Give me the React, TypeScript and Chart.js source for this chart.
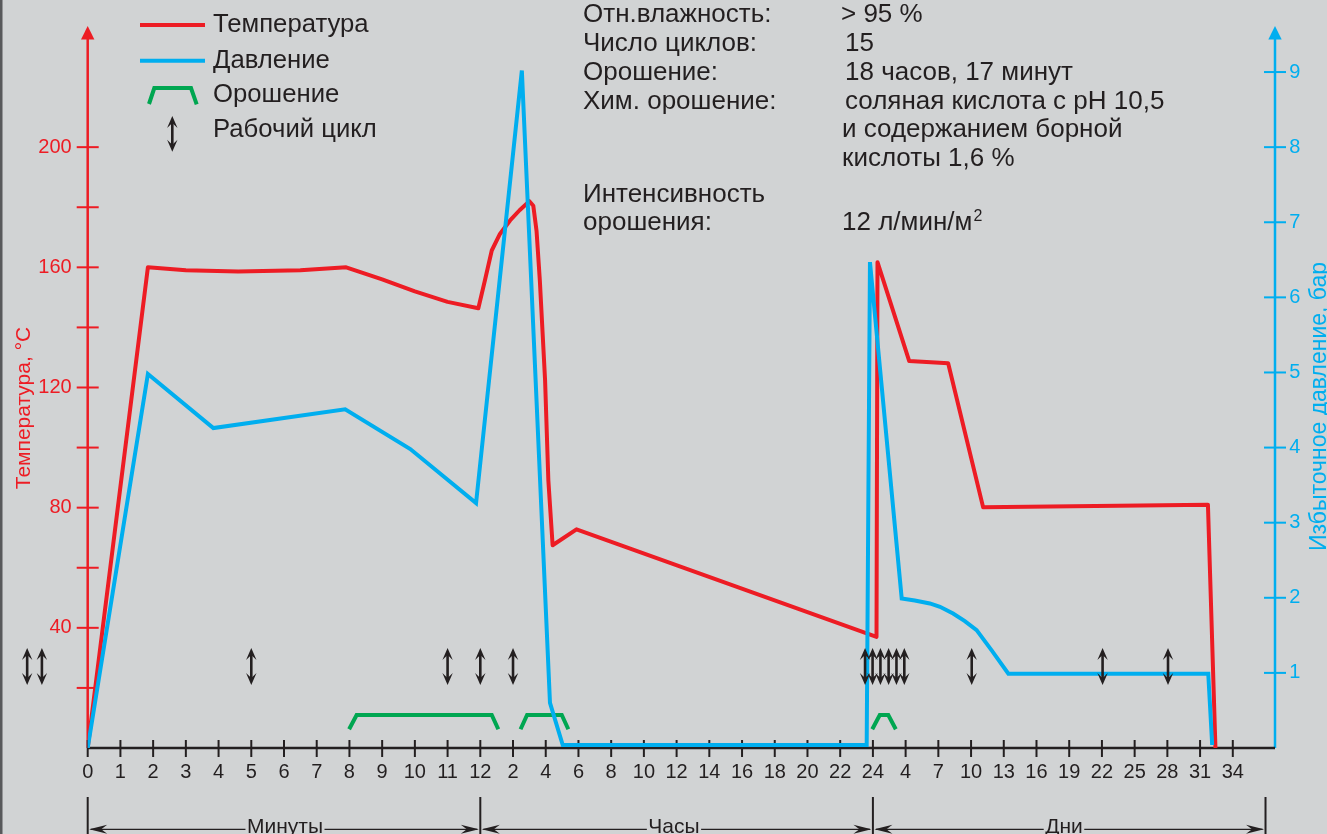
import React, { useEffect, useRef } from "react";
import { Chart, registerables } from "chart.js";

Chart.register(...registerables);

const FONT = '"Liberation Sans", Arial, Helvetica, sans-serif';
const RED = "#ed1c24";
const BLUE = "#00aeef";
const GREEN = "#00a651";
const INK = "#231f20";
const BG = "#d1d3d4";

// ---- X axis (three periods on one evenly spaced axis) ----
const xTickPositions = [0, 1, 2, 3, 4, 5, 6, 7, 8, 9, 10, 11, 12, 13, 14, 15, 16, 17, 18, 19, 20, 21, 22, 23, 24, 25, 26, 27, 28, 29, 30, 31, 32, 33, 34, 35];
const xTickLabels = [
  "0", "1", "2", "3", "4", "5", "6", "7", "8", "9", "10", "11", "12",
  "2", "4", "6", "8", "10", "12", "14", "16", "18", "20", "22", "24",
  "4", "7", "10", "13", "16", "19", "22", "25", "28", "31", "34",
];
const periodBounds = [0, 12, 24, 36];
const periodLabels = ["Минуты", "Часы", "Дни"];
const periodLabelX = [6.03, 17.92, 29.84];

// ---- Y axes ----
const tempTickMarks = [20, 40, 60, 80, 100, 120, 140, 160, 180, 200];
const tempTickLabels = [40, 80, 120, 160, 200];
const pressTicks = [1, 2, 3, 4, 5, 6, 7, 8, 9];

// ---- Series ----
const tempX = [0, 1.84, 3.0, 4.6, 6.5, 7.9, 9.0, 10.0, 11.0, 11.94, 12.14, 12.35, 12.6, 12.91, 13.2, 13.5, 13.62, 13.72, 13.82, 13.98, 14.08, 14.21, 14.94, 24.11, 24.14, 25.11, 26.3, 27.37, 34.24, 34.47];
const tempY = [0, 160, 159, 158.6, 159, 160, 156, 152, 148.5, 146.4, 155.6, 165.6, 171.1, 175.6, 179, 182, 180.5, 172, 155.6, 122.4, 89.1, 67.5, 72.8, 37.0, 161.7, 128.8, 128.1, 80.1, 81.0, 0];

const pressX = [0, 1.84, 3.84, 7.87, 9.86, 11.87, 13.27, 14.13, 14.52, 23.81, 23.91, 24.88, 25.28, 25.74, 26.05, 26.45, 26.81, 27.17, 27.63, 28.14, 34.25, 34.37];
const pressY = [0, 4.98, 4.26, 4.51, 3.98, 3.26, 9.02, 0.6, 0.04, 0.04, 6.47, 1.99, 1.965, 1.925, 1.88, 1.79, 1.69, 1.57, 1.3, 0.99, 0.99, 0.04];

// spray periods (trapezoids), null = gap
const sprayX = [7.99, 8.22, 12.35, 12.55, 12.9, 13.23, 13.43, 14.49, 14.69, 19, 23.98, 24.21, 24.47, 24.7];
const sprayY = [0.25, 0.44, 0.44, 0.25, null, 0.25, 0.44, 0.44, 0.25, null, 0.25, 0.44, 0.44, 0.25];

// working cycles (x positions)
const cycleX = [-1.85, -1.4, 5.0, 11.0, 12.0, 13.0, 23.76, 23.99, 24.23, 24.48, 24.72, 24.96, 27.02, 31.02, 33.02];

// ---- Texts ----
const legendLabels = ["Температура", "Давление", "Орошение", "Рабочий цикл"];
const infoKeys = ["Отн.влажность:", "Число циклов:", "Орошение:", "Хим. орошение:", "", "", "Интенсивность", "орошения:"];
const infoValues = ["> 95 %", "15", "18 часов, 17 минут", "соляная кислота с pH 10,5", "и содержанием борной", "кислоты 1,6 %", "", "12 л/мин/м^2"];
const tempTitle = "Температура, °C";
const pressTitle = "Избыточное давление, бар";

// layout constants (pixels)
const INFO_BASELINES = [22, 51, 80, 108.5, 137, 165.5, 202, 230];
const INFO_VALUE_X = [841, 845, 845, 845, 842, 842, 842, 842];

function arrowHead(ctx, tipX, tipY, dirX, dirY, len, half, notch) {
  const bx = tipX - dirX * len;
  const by = tipY - dirY * len;
  const nx = -dirY;
  const ny = dirX;
  ctx.beginPath();
  ctx.moveTo(tipX, tipY);
  ctx.lineTo(bx + nx * half, by + ny * half);
  ctx.lineTo(tipX - dirX * notch, tipY - dirY * notch);
  ctx.lineTo(bx - nx * half, by - ny * half);
  ctx.closePath();
  ctx.fill();
}

function doubleArrow(ctx, x, top, bottom) {
  ctx.save();
  ctx.strokeStyle = INK;
  ctx.fillStyle = INK;
  ctx.lineWidth = 2.6;
  ctx.beginPath();
  ctx.moveTo(x, top + 5);
  ctx.lineTo(x, bottom - 5);
  ctx.stroke();
  arrowHead(ctx, x, top, 0, -1, 12, 5.2, 7);
  arrowHead(ctx, x, bottom, 0, 1, 12, 5.2, 7);
  ctx.restore();
}

const decor = {
  id: "decor",
  beforeDraw(chart) {
    const { ctx, width, height } = chart;
    ctx.save();
    ctx.fillStyle = BG;
    ctx.fillRect(0, 0, width, height);
    ctx.fillStyle = "#58595b";
    ctx.fillRect(0, 0, 2.5, height);
    ctx.restore();
  },
  beforeDatasetsDraw(chart) {
    const { ctx, chartArea: ca, scales } = chart;
    const xs = scales.x;
    const yT = scales.yT;
    const yP = scales.yP;
    ctx.save();
    ctx.lineCap = "butt";
    // left axis
    ctx.strokeStyle = RED;
    ctx.fillStyle = RED;
    ctx.lineWidth = 2.5;
    ctx.beginPath();
    ctx.moveTo(ca.left, ca.bottom);
    ctx.lineTo(ca.left, ca.top);
    ctx.stroke();
    ctx.beginPath();
    ctx.moveTo(ca.left, ca.top - 13);
    ctx.lineTo(ca.left + 6.7, ca.top + 0.5);
    ctx.lineTo(ca.left - 6.7, ca.top + 0.5);
    ctx.closePath();
    ctx.fill();
    ctx.lineWidth = 2;
    tempTickMarks.forEach((v) => {
      const py = yT.getPixelForValue(v);
      ctx.beginPath();
      ctx.moveTo(ca.left - 11, py);
      ctx.lineTo(ca.left + 11, py);
      ctx.stroke();
    });
    // right axis
    ctx.strokeStyle = BLUE;
    ctx.fillStyle = BLUE;
    ctx.lineWidth = 2.5;
    ctx.beginPath();
    ctx.moveTo(ca.right, ca.bottom);
    ctx.lineTo(ca.right, ca.top);
    ctx.stroke();
    ctx.beginPath();
    ctx.moveTo(ca.right, ca.top - 13);
    ctx.lineTo(ca.right + 6.7, ca.top + 0.5);
    ctx.lineTo(ca.right - 6.7, ca.top + 0.5);
    ctx.closePath();
    ctx.fill();
    ctx.lineWidth = 2;
    pressTicks.forEach((v) => {
      const py = yP.getPixelForValue(v);
      ctx.beginPath();
      ctx.moveTo(ca.right - 11, py);
      ctx.lineTo(ca.right + 11, py);
      ctx.stroke();
    });
    // x axis
    ctx.strokeStyle = INK;
    ctx.lineWidth = 2.5;
    ctx.beginPath();
    ctx.moveTo(ca.left, ca.bottom);
    ctx.lineTo(ca.right, ca.bottom);
    ctx.stroke();
    ctx.lineWidth = 2;
    xTickPositions.forEach((v) => {
      const px = xs.getPixelForValue(v);
      ctx.beginPath();
      ctx.moveTo(px, ca.bottom - 8);
      ctx.lineTo(px, ca.bottom + 9);
      ctx.stroke();
    });
    ctx.restore();
  },
  afterDatasetsDraw(chart) {
    const { ctx, scales } = chart;
    const xs = scales.x;
    const yP = scales.yP;
    // working cycle arrows
    const aTop = yP.getPixelForValue(1.33);
    const aBot = yP.getPixelForValue(0.84);
    cycleX.forEach((v) => doubleArrow(ctx, xs.getPixelForValue(v), aTop, aBot));

    ctx.save();
    // axis titles
    ctx.textAlign = "center";
    ctx.textBaseline = "alphabetic";
    ctx.font = `21px ${FONT}`;
    ctx.fillStyle = RED;
    ctx.save();
    ctx.translate(30, 408);
    ctx.rotate(-Math.PI / 2);
    ctx.fillText(tempTitle, 0, 0);
    ctx.restore();
    ctx.font = `23px ${FONT}`;
    ctx.fillStyle = BLUE;
    ctx.save();
    ctx.translate(1326, 406.5);
    ctx.rotate(-Math.PI / 2);
    ctx.fillText(pressTitle, 0, 0);
    ctx.restore();

    // legend
    ctx.lineWidth = 4;
    ctx.lineJoin = "miter";
    ctx.strokeStyle = RED;
    ctx.beginPath();
    ctx.moveTo(140, 25);
    ctx.lineTo(205, 25);
    ctx.stroke();
    ctx.strokeStyle = BLUE;
    ctx.beginPath();
    ctx.moveTo(140, 60.7);
    ctx.lineTo(205, 60.7);
    ctx.stroke();
    ctx.strokeStyle = GREEN;
    ctx.beginPath();
    ctx.moveTo(149, 104);
    ctx.lineTo(154.3, 88);
    ctx.lineTo(191, 88);
    ctx.lineTo(196.7, 104.3);
    ctx.stroke();
    doubleArrow(ctx, 172.3, 116, 151.7);
    ctx.fillStyle = INK;
    ctx.textAlign = "left";
    ctx.font = `25.7px ${FONT}`;
    const legBase = [31.7, 67.7, 101.7, 136.7];
    legendLabels.forEach((t, i) => ctx.fillText(t, 213, legBase[i]));

    // info block
    ctx.font = `26px ${FONT}`;
    infoKeys.forEach((t, i) => {
      if (t) ctx.fillText(t, 583, INFO_BASELINES[i]);
    });
    infoValues.forEach((t, i) => {
      if (!t) return;
      const parts = t.split("^");
      ctx.font = `26px ${FONT}`;
      ctx.fillText(parts[0], INFO_VALUE_X[i], INFO_BASELINES[i]);
      if (parts[1]) {
        const w = ctx.measureText(parts[0]).width;
        ctx.font = `16px ${FONT}`;
        ctx.fillText(parts[1], INFO_VALUE_X[i] + w + 1, INFO_BASELINES[i] - 9);
        ctx.font = `26px ${FONT}`;
      }
    });

    // period brackets
    ctx.strokeStyle = INK;
    ctx.fillStyle = INK;
    ctx.lineWidth = 2;
    periodBounds.forEach((b) => {
      const px = xs.getPixelForValue(b);
      ctx.beginPath();
      ctx.moveTo(px, 797);
      ctx.lineTo(px, 834);
      ctx.stroke();
    });
    ctx.font = `21px ${FONT}`;
    ctx.textAlign = "center";
    const ly = 829.3;
    periodLabels.forEach((t, i) => {
      const x1 = xs.getPixelForValue(periodBounds[i]);
      const x2 = xs.getPixelForValue(periodBounds[i + 1]);
      const cx = xs.getPixelForValue(periodLabelX[i]);
      const w = ctx.measureText(t).width;
      ctx.lineWidth = 1.3;
      ctx.beginPath();
      ctx.moveTo(x1 + 3, ly);
      ctx.lineTo(cx - w / 2 - 1.5, ly);
      ctx.moveTo(cx + w / 2 + 1.5, ly);
      ctx.lineTo(x2 - 3, ly);
      ctx.stroke();
      arrowHead(ctx, x1 + 1.5, ly, -1, 0, 18, 4.5, 12);
      arrowHead(ctx, x2 - 1.5, ly, 1, 0, 18, 4.5, 12);
      ctx.fillText(t, cx, 833);
    });
    ctx.restore();
  },
};

export default function App() {
  const ref = useRef(null);
  useEffect(() => {
    const canvas = ref.current;
    const chart = new Chart(canvas, {
      type: "line",
      data: {
        datasets: [
          {
            label: "Давление",
            data: pressX.map((x, i) => ({ x, y: pressY[i] })),
            yAxisID: "yP",
            borderColor: BLUE,
            borderWidth: 4,
            pointRadius: 0,
            tension: 0,
            fill: false,
            borderJoinStyle: "miter",
            order: 0,
          },
          {
            label: "Температура",
            data: tempX.map((x, i) => ({ x, y: tempY[i] })),
            yAxisID: "yT",
            borderColor: RED,
            borderWidth: 4,
            pointRadius: 0,
            tension: 0,
            fill: false,
            borderJoinStyle: "round",
            order: 1,
          },
          {
            label: "Орошение",
            data: sprayX.map((x, i) => ({ x, y: sprayY[i] })),
            yAxisID: "yP",
            borderColor: GREEN,
            borderWidth: 4,
            pointRadius: 0,
            tension: 0,
            fill: false,
            spanGaps: false,
            borderJoinStyle: "miter",
            order: 2,
          },
        ],
      },
      options: {
        responsive: false,
        maintainAspectRatio: false,
        animation: false,
        devicePixelRatio: 1,
        events: [],
        layout: { padding: { top: 39, left: 0, right: 0, bottom: 0 } },
        plugins: {
          legend: { display: false },
          tooltip: { enabled: false },
          title: { display: false },
        },
        scales: {
          x: {
            type: "linear",
            position: "bottom",
            min: 0,
            max: 36.29,
            grid: { display: false, drawTicks: false },
            border: { display: false },
            afterBuildTicks: (s) => {
              s.ticks = xTickPositions.map((v) => ({ value: v }));
            },
            afterFit: (s) => {
              s.height = 86;
            },
            ticks: {
              autoSkip: false,
              maxRotation: 0,
              minRotation: 0,
              padding: 12,
              color: INK,
              font: { family: FONT, size: 20 },
              callback: (v, i) => xTickLabels[i],
            },
          },
          yT: {
            type: "linear",
            position: "left",
            min: 0,
            max: 236,
            grid: { display: false, drawTicks: false },
            border: { display: false },
            afterBuildTicks: (s) => {
              s.ticks = tempTickLabels.map((v) => ({ value: v }));
            },
            afterFit: (s) => {
              s.width = 87.7;
            },
            ticks: {
              padding: 16,
              color: RED,
              font: { family: FONT, size: 20 },
              callback: (v) => String(v),
            },
          },
          yP: {
            type: "linear",
            position: "right",
            min: 0,
            max: 9.44,
            grid: { display: false, drawTicks: false },
            border: { display: false },
            afterBuildTicks: (s) => {
              s.ticks = pressTicks.map((v) => ({ value: v }));
            },
            afterFit: (s) => {
              s.width = 52;
            },
            ticks: {
              padding: 14.3,
              color: BLUE,
              font: { family: FONT, size: 20 },
              callback: (v) => String(v),
            },
          },
        },
      },
      plugins: [decor],
    });
    return () => chart.destroy();
  }, []);

  return (
    <div style={{ position: "fixed", left: 0, top: 0, width: 1327, height: 834, background: BG }}>
      <canvas ref={ref} width={1327} height={834} style={{ display: "block", width: 1327, height: 834 }} />
    </div>
  );
}
